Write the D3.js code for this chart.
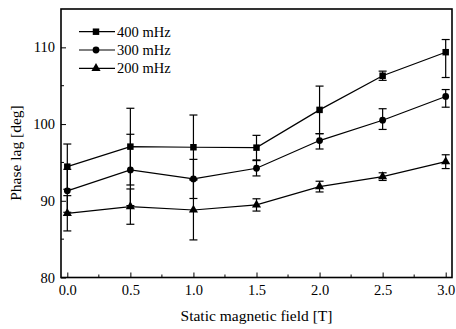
<!DOCTYPE html>
<html><head><meta charset="utf-8">
<script src="https://cdn.jsdelivr.net/npm/d3@7"></script>
<style>
html,body{margin:0;padding:0;background:#fff;}
text{font-family:"Liberation Serif","Times New Roman",serif;fill:#000;}
</style></head>
<body>
<svg id="c" width="456" height="329"></svg>
<script>
const fields = [0, 0.5, 1.0, 1.5, 2.0, 2.5, 3.0];
const xTicks = [0, 0.5, 1.0, 1.5, 2.0, 2.5, 3.0];
const yTicks = [80, 90, 100, 110];
const seriesNames = ["400 mHz", "300 mHz", "200 mHz"];
const lag400 = [94.45, 97.06, 96.98, 96.93, 101.85, 106.3, 109.37];
const errUp400 = [2.95, 5.0, 4.2, 1.6, 3.1, 0.6, 1.65];
const errDn400 = [2.95, 5.0, 4.2, 1.6, 3.1, 0.6, 3.3];
const lag300 = [91.3, 94.02, 92.85, 94.24, 97.85, 100.5, 103.6];
const errUp300 = [2.8, 4.65, 2.55, 1.0, 0.9, 1.5, 0.9];
const errDn300 = [2.8, 4.65, 2.55, 1.0, 1.1, 1.2, 1.4];
const lag200 = [88.37, 89.24, 88.8, 89.46, 91.85, 93.15, 95.1];
const err200 = [2.3, 2.3, 3.9, 0.8, 0.7, 0.5, 0.9];

const series = [
  {name: seriesNames[0], vals: lag400, up: errUp400, dn: errDn400, sym: d3.symbolSquare, size: 42},
  {name: seriesNames[1], vals: lag300, up: errUp300, dn: errDn300, sym: d3.symbolCircle, size: 36},
  {name: seriesNames[2], vals: lag200, up: err200, dn: err200, sym: d3.symbolTriangle, size: 36}
];

const L = 61, R = 452, T = 9, B = 277.5;
const svg = d3.select("#c");
const x = d3.scaleLinear().domain([-0.05, 3.05]).range([L, R]);
const y = d3.scaleLinear().domain([80, 115]).range([B, T]);

// minor ticks
const g = svg.append("g");
const xMinor = [0.25, 0.75, 1.25, 1.75, 2.25, 2.75];
const yMinor = [85, 95, 105];
g.selectAll("line.xm").data(xMinor).enter().append("line")
  .attr("x1", d => x(d)).attr("x2", d => x(d)).attr("y1", B).attr("y2", B - 3)
  .attr("stroke", "#000").attr("stroke-width", 1);
g.selectAll("line.ym").data(yMinor).enter().append("line")
  .attr("x1", L).attr("x2", L + 3).attr("y1", d => y(d)).attr("y2", d => y(d))
  .attr("stroke", "#000").attr("stroke-width", 1);

// axes
const xAxis = svg.append("g").attr("transform", `translate(0,${B})`)
  .call(d3.axisBottom(x).tickValues(xTicks).tickFormat(d3.format(".1f")).tickSize(-5).tickPadding(7.2));
const yAxis = svg.append("g").attr("transform", `translate(${L},0)`)
  .call(d3.axisLeft(y).tickValues(yTicks).tickSize(-5).tickPadding(6));
[xAxis, yAxis].forEach(a => {
  a.select(".domain").remove();
  a.selectAll(".tick line").attr("stroke", "#000").attr("stroke-width", 1);
  a.selectAll("text").attr("font-size", 14.5).style("font-family", '"Liberation Serif", serif');
});

// frame
svg.append("rect").attr("x", L).attr("y", T).attr("width", R - L).attr("height", B - T)
  .attr("fill", "none").attr("stroke", "#000").attr("stroke-width", 1.6);

// series
const line = d3.line().x((d, i) => x(fields[i])).y(d => y(d));
series.forEach(s => {
  const sg = svg.append("g");
  s.vals.forEach((v, i) => {
    const cx = x(fields[i]);
    const y1 = y(v + s.up[i]), y2 = y(v - s.dn[i]);
    sg.append("line").attr("x1", cx).attr("x2", cx).attr("y1", y1).attr("y2", y2)
      .attr("stroke", "#000").attr("stroke-width", 1.2);
    [y1, y2].forEach(yy => sg.append("line").attr("x1", cx - 4).attr("x2", cx + 4)
      .attr("y1", yy).attr("y2", yy).attr("stroke", "#000").attr("stroke-width", 1.2));
  });
  sg.append("path").datum(s.vals).attr("d", line).attr("fill", "none")
    .attr("stroke", "#000").attr("stroke-width", 1.2);
  sg.selectAll("path.m").data(s.vals).enter().append("path")
    .attr("transform", (d, i) => `translate(${x(fields[i])},${y(d)})`)
    .attr("d", d3.symbol().type(s.sym).size(s.size)).attr("fill", "#000");
});

// legend
const leg = svg.append("g");
series.forEach((s, i) => {
  const ly = 31.7 + i * 18.3;
  leg.append("line").attr("x1", 79).attr("x2", 115).attr("y1", ly).attr("y2", ly)
    .attr("stroke", "#000").attr("stroke-width", 1.2);
  leg.append("path").attr("transform", `translate(96,${ly})`)
    .attr("d", d3.symbol().type(s.sym).size(s.size)).attr("fill", "#000");
  leg.append("text").attr("x", 117).attr("y", ly + 5).attr("font-size", 14.5).text(s.name);
});

// axis titles
svg.append("text").attr("x", (L + R) / 2).attr("y", 321).attr("text-anchor", "middle")
  .attr("font-size", 15.5).text("Static magnetic field [T]");
svg.append("text").attr("transform", `translate(21,153) rotate(-90)`).attr("text-anchor", "middle")
  .attr("font-size", 15.5).text("Phase lag [deg]");
</script>
</body></html>
